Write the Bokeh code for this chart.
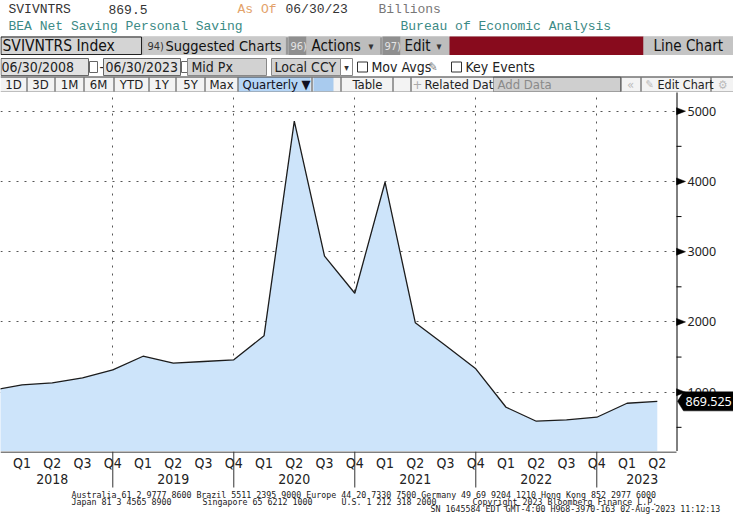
from bokeh.plotting import figure
from bokeh.models import Range1d, FixedTicker
from bokeh.layouts import column
from bokeh.embed import file_html
from bokeh.resources import INLINE
from bokeh.core.properties import value

# ---------------- data ----------------
periods = ["2017Q4", "2018Q1", "2018Q2", "2018Q3", "2018Q4",
           "2019Q1", "2019Q2", "2019Q3", "2019Q4",
           "2020Q1", "2020Q2", "2020Q3", "2020Q4",
           "2021Q1", "2021Q2", "2021Q3", "2021Q4",
           "2022Q1", "2022Q2", "2022Q3", "2022Q4",
           "2023Q1", "2023Q2"]
quarter_index = list(range(-1, 22))
saving = [1025, 1105, 1134, 1205, 1319,
          1512, 1413, 1437, 1461,
          1803, 4858, 2936, 2409,
          3989, 1989, 1665, 1333,
          786, 587, 607, 644,
          843, 869.525]
last_value = 869.525

q_label_index = list(range(0, 22))
q_names = ["Q1", "Q2", "Q3", "Q4"]
q_labels = [q_names[i % 4] for i in q_label_index]
year_labels = ["2018", "2019", "2020", "2021", "2022", "2023"]
year_label_pos = [1, 5, 9, 13, 17, 20.5]
year_end_index = [3, 7, 11, 15, 19]
y_ticks = [1000, 2000, 3000, 4000, 5000]
y_tick_labels = [str(t) for t in y_ticks]
y_minor = [500, 1500, 2500, 3500, 4500]

# ---------------- geometry ----------------
W, H = 733, 519
AXIS_PX = 676                     # pixel column of the value axis
X0, X1 = -0.712, 21.635           # quarter index at left edge / at the axis
PX_PER_Q = AXIS_PX / (X1 - X0)
Y0, Y1 = 156, 5266
MAIN_H = 359
UNITS_PER_PX = (Y1 - Y0) / MAIN_H

COND = "DejaVu Sans Condensed"
MONO = "Liberation Mono"

common = dict(output_backend="svg", toolbar_location=None,
              x_axis_location=None, y_axis_location=None,
              min_border_left=0, min_border_right=0, min_border_top=0, min_border_bottom=0)

# ---------------- header (terminal chrome) ----------------
header = figure(width=W, height=92, x_range=Range1d(0, W), y_range=Range1d(92, 0), **common)
header.grid.visible = False
header.outline_line_color = None
header.background_fill_color = "white"
header.border_fill_color = "white"


def hbox(l, r, t, b, fill, line=None):
    header.quad(left=[l], right=[r], top=[t], bottom=[b], fill_color=fill,
                line_color=line, line_width=1)


def hline(x0, y0, x1, y1, color="#333", w=1):
    header.segment(x0=[x0], y0=[y0], x1=[x1], y1=[y1], line_color=color, line_width=w)


def htext(x, y, s, size=13, color="#222", font=COND, align="left"):
    header.text(x=[x], y=[y], text=[s], text_font=value(font),
                text_font_size=value(f"{size}px"), text_color=color,
                text_align=align, text_baseline="middle")


# row 1
htext(8, 9, "SVIVNTRS", 13, "#333", MONO)
htext(108, 9, "869.5", 13, "#333", MONO)
htext(237, 9, "As Of", 13, "#e3a26a", MONO)
htext(285, 9, "06/30/23", 13, "#333", MONO)
htext(378, 9, "Billions", 13, "#777", MONO)
# row 2
htext(8, 26, "BEA Net Saving Personal Saving", 13, "#3b8a85", MONO)
htext(400, 26, "Bureau of Economic Analysis", 13, "#3b8a85", MONO)

# row 3
hbox(0, 733, 36, 54.5, "#bcbcbc")
hbox(0.5, 141, 36.5, 54, "#d4d4d4", "#222")
hbox(143, 285, 36, 54.5, "#c9c9c9")
hbox(288, 306, 36, 54.5, "#8f8f8f")
hbox(306, 380, 36, 54.5, "#bdbdbd")
hbox(382, 400, 36, 54.5, "#8f8f8f")
hbox(400, 448, 36, 54.5, "#bdbdbd")
hbox(449, 643, 36, 54.5, "#880b1d")
hbox(643, 733, 36, 54.5, "#c4c4c4")
hline(286.5, 37, 286.5, 54, "#777")
hline(380.5, 37, 380.5, 54, "#777")
htext(2, 45.5, "SVIVNTRS Index", 15.5, "#111")
htext(147, 45.5, "94)", 11, "#333")
htext(165, 45.5, "Suggested Charts", 14.5, "#111")
htext(290, 45.5, "96)", 11, "#e4e4e4")
htext(311, 45.5, "Actions", 15, "#111")
htext(368, 46, "▾", 11, "#333")
htext(384, 45.5, "97)", 11, "#e4e4e4")
htext(404, 45.5, "Edit", 15, "#111")
htext(436, 46, "▾", 11, "#333")
htext(653, 45.5, "Line Chart", 15, "#111")

# row 4
hbox(0.5, 88, 58, 75, "#e2e2e2", "#666")
hbox(89, 97, 61, 72, "#ffffff", "#666")
htext(1, 66.5, "06/30/2008", 14, "#222")
htext(99, 66.5, "-", 14, "#222")
hbox(103, 180, 58, 75, "#e2e2e2", "#666")
hbox(181, 189, 61, 72, "#ffffff", "#666")
htext(105, 66.5, "06/30/2023", 14, "#222")
hbox(187, 266, 58, 75, "#d2d2d2", "#888")
htext(191, 66.5, "Mid Px", 14, "#222")
hbox(271, 340, 58, 75, "#d2d2d2", "#888")
htext(274, 66.5, "Local CCY", 14, "#222")
hbox(340, 352, 58, 75, "#ffffff", "#888")
htext(346, 67, "▾", 10, "#333", align="center")
hbox(357, 367, 61.5, 71.5, "#ffffff", "#333")
htext(371, 66.5, "Mov Avgs", 14, "#222")
htext(428, 66.5, "✎", 12, "#777")
hbox(451, 461, 61.5, 71.5, "#ffffff", "#333")
htext(465, 66.5, "Key Events", 14, "#222")

# row 5
hbox(0, 733, 76, 92, "#f3f3f3")
hbox(238, 310, 76.5, 91.5, "#b5d5f6")
hbox(313, 333, 77, 91, "#a9cbee")
hbox(493, 620, 76.5, 91.5, "#cfcfcf", "#999")
hline(0, 76.5, 733, 76.5, "#333")
hline(0, 91.5, 733, 91.5, "#888")
for sx in [26, 54, 83, 113, 148, 175, 204, 237, 311, 340, 392, 410, 620, 640, 710]:
    hline(sx + 0.5, 77, sx + 0.5, 91, "#444")
for s, cx in [("1D", 13), ("3D", 40), ("1M", 69), ("6M", 98), ("YTD", 131),
              ("1Y", 161), ("5Y", 190), ("Max", 221)]:
    htext(cx, 84, s, 13, "#222", align="center")
htext(242, 84, "Quarterly ▼", 13, "#112")
htext(352, 84, "Table", 13, "#222")
htext(412, 84, "+", 13, "#aaa")
htext(424, 84, "Related Dat", 13, "#222")
htext(497, 84, "Add Data", 13, "#8a8a8a")
htext(630, 84, "«", 13, "#bbb", align="center")
htext(645, 84, "✎", 11, "#bbb")
htext(657, 84, "Edit Chart", 12.5, "#222")
htext(722, 84, "⚙", 12, "#bbb", align="center")

# ---------------- main chart ----------------
xr = Range1d(X0, X0 + W / PX_PER_Q)
main = figure(width=W, height=MAIN_H, x_range=xr, y_range=Range1d(Y0, Y1), **common)
main.extra_x_ranges = {"px": Range1d(0, W)}
main.outline_line_color = None
main.background_fill_color = "white"
main.border_fill_color = "white"

main.xgrid.ticker = FixedTicker(ticks=year_end_index)
main.ygrid.ticker = FixedTicker(ticks=y_ticks)
for g in (main.xgrid, main.ygrid):
    g.grid_line_color = "#555555"
    g.grid_line_dash = "2 6"
    g.grid_line_width = 1
    g.level = "underlay"

main.varea(x=quarter_index, y1=[0] * len(saving), y2=saving, fill_color="#cde4fa")
main.line(x=quarter_index, y=saving, line_color="#1c1c1c", line_width=1.3)

# value axis on the right (drawn through the chart's y scale)
main.quad(left=[AXIS_PX], right=[W], bottom=[Y0 - 500], top=[Y1 + 500],
          fill_color="white", line_color=None, x_range_name="px")
main.segment(x0=[AXIS_PX + 0.5], y0=[Y0 - 500], x1=[AXIS_PX + 0.5], y1=[Y1 + 500],
             line_color="black", line_width=1, x_range_name="px")
main.segment(x0=[AXIS_PX] * len(y_minor), y0=y_minor, x1=[AXIS_PX + 5] * len(y_minor),
             y1=y_minor, line_color="black", line_width=1, x_range_name="px")
tri_h = 3.5 * UNITS_PER_PX
main.patches(xs=[[AXIS_PX, AXIS_PX + 9, AXIS_PX] for _ in y_ticks],
             ys=[[t + tri_h, t, t - tri_h] for t in y_ticks],
             fill_color="black", line_color="black", line_width=0.5, x_range_name="px")
main.text(x=[AXIS_PX + 11] * len(y_ticks), y=y_ticks, text=y_tick_labels,
          text_font=value("Noto Sans"), text_font_size=value("12.5px"),
          text_color="#222", text_align="left", text_baseline="middle",
          x_range_name="px")

# last value callout (pointed tag)
box_h = 9.5 * UNITS_PER_PX
main.patch(x=[AXIS_PX + 1, AXIS_PX + 7, W, W, AXIS_PX + 7],
           y=[last_value, last_value + box_h, last_value + box_h,
              last_value - box_h, last_value - box_h],
           fill_color="black", line_color="black", line_width=0.5, x_range_name="px")
main.text(x=[AXIS_PX + 9], y=[last_value], text=[f"{last_value:.3f}"],
          text_font=value("Noto Sans"), text_font_size=value("12.5px"),
          text_color="white", text_align="left", text_baseline="middle",
          x_range_name="px")

# ---------------- bottom axis + footer ----------------
bottom = figure(width=W, height=H - 451, x_range=xr, y_range=Range1d(H, 451), **common)
bottom.extra_x_ranges = {"px": Range1d(0, W)}
bottom.grid.visible = False
bottom.outline_line_color = None
bottom.background_fill_color = "white"
bottom.border_fill_color = "white"

bottom.segment(x0=[X0], y0=[451.5], x1=[X1], y1=[451.5], line_color="black", line_width=1)
bottom.segment(x0=year_end_index, y0=[451] * len(year_end_index),
               x1=year_end_index, y1=[487] * len(year_end_index),
               line_color="#333", line_width=1)
bottom.text(x=q_label_index, y=[462] * len(q_label_index), text=q_labels,
            text_font=value(COND), text_font_size=value("14px"), text_color="#222",
            text_align="center", text_baseline="middle")
bottom.text(x=year_label_pos, y=[478] * len(year_label_pos), text=year_labels,
            text_font=value(COND), text_font_size=value("14px"), text_color="#222",
            text_align="center", text_baseline="middle")

footer = [
    (71, 494, "Australia 61 2 9777 8600 Brazil 5511 2395 9000 Europe 44 20 7330 7500 Germany 49 69 9204 1210 Hong Kong 852 2977 6000"),
    (71, 501, "Japan 81 3 4565 8900"),
    (202, 501, "Singapore 65 6212 1000"),
    (341, 501, "U.S. 1 212 318 2000"),
    (472, 501, "Copyright 2023 Bloomberg Finance L.P."),
    (430, 508, "SN 1645584 EDT  GMT-4:00 H968-3970-163 02-Aug-2023 11:12:13"),
]
bottom.text(x=[f[0] for f in footer], y=[f[1] for f in footer],
            text=[f[2] for f in footer], text_font=value("DejaVu Sans Mono"),
            text_font_size=value("8.3px"), text_color="#1a1a1a",
            text_align="left", text_baseline="middle", x_range_name="px")

layout = column(header, main, bottom, spacing=0)
open("out.html", "w").write(file_html(layout, INLINE))
